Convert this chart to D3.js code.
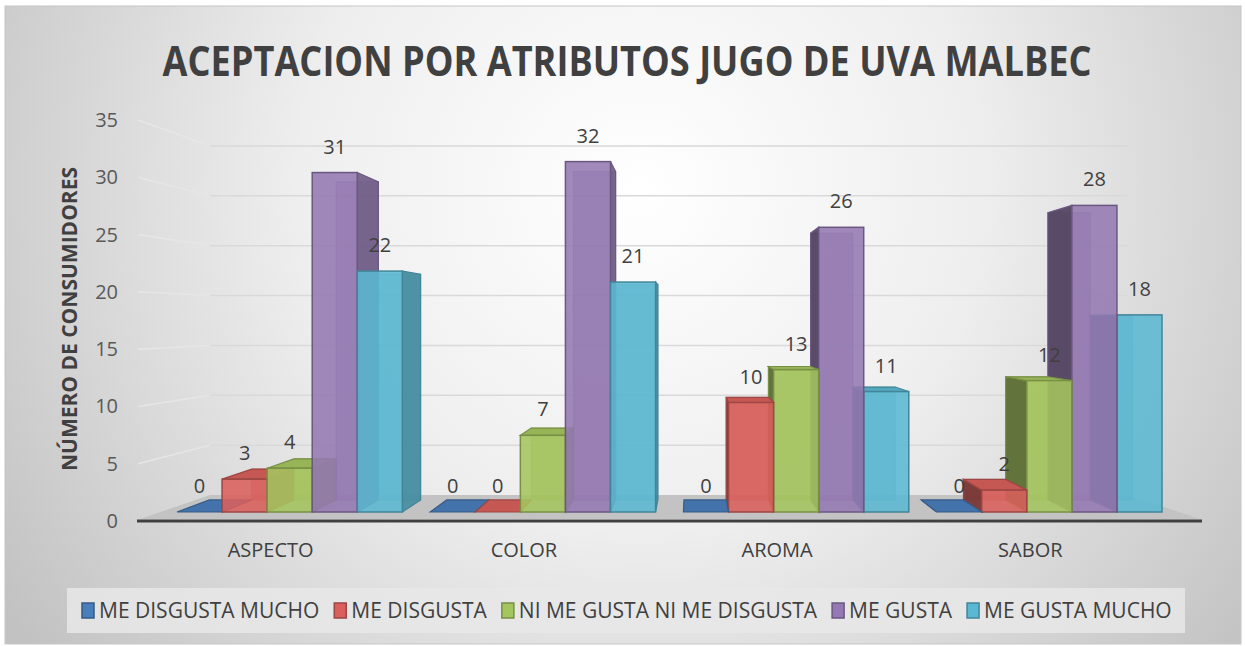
<!DOCTYPE html>
<meta charset="utf-8">
<script src="https://d3js.org/d3.v7.min.js"></script>
<style>
  body { margin: 0; background: #fff; }
  text { font-family: "Open Sans", sans-serif; }
</style>
<div id="chart"></div>
<script>

// data
var categories = ["ASPECTO", "COLOR", "AROMA", "SABOR"];
var seriesNames = ["ME DISGUSTA MUCHO", "ME DISGUSTA", "NI ME GUSTA NI ME DISGUSTA", "ME GUSTA", "ME GUSTA MUCHO"];
var meDisgustaMucho = [0, 0, 0, 0];
var meDisgusta = [3, 0, 10, 2];
var niMeGustaNiMeDisgusta = [4, 7, 13, 12];
var meGusta = [31, 32, 26, 28];
var meGustaMucho = [22, 21, 11, 18];
var yTicks = [0, 5, 10, 15, 20, 25, 30, 35];

var seriesValues = [meDisgustaMucho, meDisgusta, niMeGustaNiMeDisgusta, meGusta, meGustaMucho];
var colors = ["#4a7ebb", "#d9605c", "#a5c55f", "#9479b2", "#5bb8d2"];

var width = 1245, height = 646;

var svg = d3.select("#chart")
  .append("svg")
    .attr("width", width)
    .attr("height", height);

// background gradient
var defs = svg.append("defs");
var grad = defs.append("radialGradient")
    .attr("id", "bg")
    .attr("gradientUnits", "userSpaceOnUse")
    .attr("cx", 640).attr("cy", 190).attr("r", 760);
grad.append("stop").attr("offset", "0").attr("stop-color", "#ffffff");
grad.append("stop").attr("offset", "0.45").attr("stop-color", "#eeeeee");
grad.append("stop").attr("offset", "1").attr("stop-color", "#c2c2c2");

svg.append("rect")
    .attr("x", 5).attr("y", 6)
    .attr("width", 1236).attr("height", 638)
    .attr("fill", "url(#bg)")
    .attr("stroke", "#c6c6c6");

// scales: front plane (bars), back wall (gridlines), tick labels
var y = d3.scaleLinear().domain([0, 35]).range([512, 512 - 35 * 10.95]);
var yBack = d3.scaleLinear().domain([0, 35]).range([495, 146]);
var yLabel = d3.scaleLinear().domain([0, 35]).range([521, 120]);

var x0 = d3.scaleBand()
  .domain(categories)
  .range([177, 1162])
  .paddingInner(0.11)
  .paddingOuter(0);
var x1 = d3.scaleBand()
  .domain(seriesNames)
  .range([0, x0.bandwidth()]);

// perspective: back faces shrink toward a vanishing point
var vp = {x: 692, y: 320}, k = 0.063;
function back(px, py) {
  return [px + (vp.x - px) * k, py + (vp.y - py) * k];
}

// floor
svg.append("polygon")
    .attr("points", [[140, 519], [210, yBack(0)], [1128, yBack(0)], [1200, 519]].join(" "))
    .attr("fill", "#c3c3c3");

// gridlines
var grid = svg.append("g");
yTicks.filter(function(d) { return d > 0; }).forEach(function(t) {
  grid.append("line")
      .attr("x1", 138).attr("y1", yLabel(t))
      .attr("x2", 210).attr("y2", yBack(t))
      .attr("stroke", "#e6e6e6").attr("stroke-width", 1.5);
  grid.append("line")
      .attr("x1", 210).attr("y1", yBack(t))
      .attr("x2", 1128).attr("y2", yBack(t))
      .attr("stroke", "#d9d9d9").attr("stroke-width", 1.5);
});

// axis baseline
svg.append("line")
    .attr("x1", 137).attr("y1", 521)
    .attr("x2", 1202).attr("y2", 521)
    .attr("stroke", "#404040").attr("stroke-width", 3);

// y tick labels
svg.append("g").selectAll("text")
  .data(yTicks)
  .enter()
  .append("text")
    .attr("x", 118)
    .attr("y", function(d) { return yLabel(d) + 7; })
    .attr("text-anchor", "end")
    .attr("font-size", 20)
    .attr("fill", "#595959")
    .text(function(d) { return d; });

// y title
svg.append("text")
    .attr("transform", "translate(77,319) rotate(-90)")
    .attr("text-anchor", "middle")
    .attr("font-size", 21)
    .attr("font-weight", "bold")
    .attr("fill", "#404040")
    .text("NÚMERO DE CONSUMIDORES");

// build bars
var bars = [];
categories.forEach(function(c, i) {
  seriesNames.forEach(function(s, j) {
    bars.push({cat: c, ser: s, j: j, value: seriesValues[j][i],
               x: x0(c) + x1(s), w: x1.bandwidth()});
  });
});
// far-from-vanishing-point first so nearer bars cover their neighbours' sides
bars.sort(function(a, b) {
  return Math.abs(b.x + b.w / 2 - vp.x) - Math.abs(a.x + a.w / 2 - vp.x);
});

var barG = svg.append("g");
bars.forEach(function(d) {
  var base = d3.color(colors[d.j]);
  var edge = base.darker(0.9).formatHex();
  var g = barG.append("g");
  var xl = d.x, xr = d.x + d.w, yt = y(d.value), yb = y(0);

  // back face outline seen through the translucent bar
  var bTL = back(xl, yt), bBR = back(xr, yb);
  g.append("rect")
      .attr("x", bTL[0]).attr("y", bTL[1])
      .attr("width", bBR[0] - bTL[0]).attr("height", Math.max(0, bBR[1] - bTL[1]))
      .attr("fill", base.darker(0.4).formatHex()).attr("fill-opacity", 0.5)
      .attr("stroke", edge).attr("stroke-opacity", 0.5);

  // side face
  if (xr < vp.x) {
    g.append("polygon")
        .attr("points", [[xr, yt], back(xr, yt), back(xr, yb), [xr, yb]].join(" "))
        .attr("fill", base.darker(0.75).formatHex()).attr("fill-opacity", 0.92)
        .attr("stroke", edge).attr("stroke-width", 1.2);
  } else if (xl > vp.x) {
    g.append("polygon")
        .attr("points", [[xl, yt], back(xl, yt), back(xl, yb), [xl, yb]].join(" "))
        .attr("fill", base.darker(1.7).formatHex()).attr("fill-opacity", 0.92)
        .attr("stroke", edge).attr("stroke-width", 1.2);
  }
  // top face
  if (yt > vp.y) {
    g.append("polygon")
        .attr("points", [[xl, yt], [xr, yt], back(xr, yt), back(xl, yt)].join(" "))
        .attr("fill", base.darker(0.25).formatHex())
        .attr("stroke", edge).attr("stroke-width", 1.2);
  }
  // front face
  if (d.value > 0) {
    g.append("rect")
        .attr("x", xl).attr("y", yt)
        .attr("width", d.w).attr("height", yb - yt)
        .attr("fill", base.formatHex()).attr("fill-opacity", 0.88)
        .attr("stroke", edge).attr("stroke-width", 1.5);
  }
});

// data labels
svg.append("g").selectAll("text")
  .data(bars)
  .enter()
  .append("text")
    .attr("x", function(d) { return d.x + d.w / 2; })
    .attr("y", function(d) { return y(d.value) - 19; })
    .attr("text-anchor", "middle")
    .attr("font-size", 20)
    .attr("fill", "#404040")
    .text(function(d) { return d.value; });

// category labels
svg.append("g").selectAll("text")
  .data(categories)
  .enter()
  .append("text")
    .attr("x", function(d) { return x0(d) + x0.bandwidth() / 2 - 19; })
    .attr("y", 557)
    .attr("text-anchor", "middle")
    .attr("font-size", 20)
    .attr("fill", "#404040")
    .text(function(d) { return d; });

// title
svg.append("text")
    .attr("x", 627)
    .attr("y", 76)
    .attr("text-anchor", "middle")
    .attr("font-size", 41)
    .attr("font-weight", "bold")
    .attr("fill", "#404040")
    .attr("textLength", 929)
    .attr("lengthAdjust", "spacingAndGlyphs")
    .text("ACEPTACION POR ATRIBUTOS JUGO DE UVA MALBEC");

// legend
svg.append("rect")
    .attr("x", 67).attr("y", 588)
    .attr("width", 1118).attr("height", 45)
    .attr("fill", "#e8e8e8").attr("fill-opacity", 0.85);

var legend = svg.append("g");
var lx = 82;
seriesNames.forEach(function(s, j) {
  var base = d3.color(colors[j]);
  legend.append("rect")
      .attr("x", lx).attr("y", 603)
      .attr("width", 12).attr("height", 15)
      .attr("fill", base.formatHex())
      .attr("stroke", base.darker(0.9).formatHex()).attr("stroke-width", 1.5);
  var t = legend.append("text")
      .attr("x", lx + 17)
      .attr("y", 618)
      .attr("font-size", 21)
      .attr("fill", "#404040")
      .text(s);
  var tw = t.node().getComputedTextLength();
  lx = lx + 17 + tw + 15;
});

</script>
